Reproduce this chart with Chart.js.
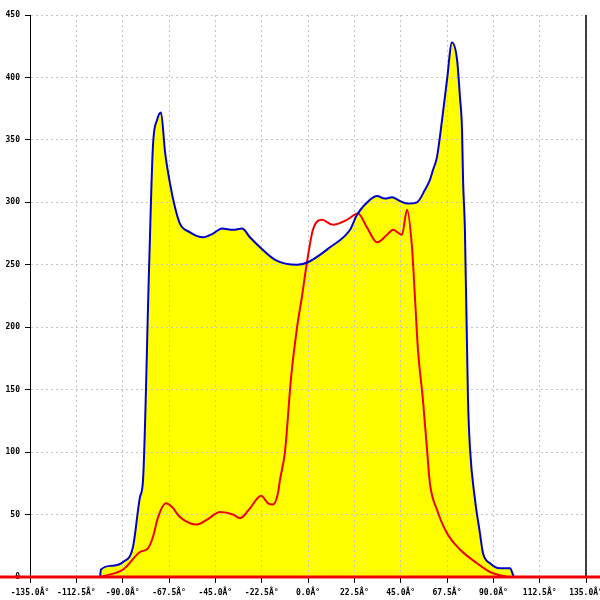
<!DOCTYPE html>
<html>
<head>
<meta charset="utf-8">
<script src="https://cdn.jsdelivr.net/npm/chart.js@4"></script>
<style>
    body { margin: 0; background: #fff; }
    canvas { display: block; background: #fff; }
</style>
</head>
<body>
<canvas id="histogram" width="600" height="600"></canvas>
<script>
// angle (deg) / count pairs
const blueAngles = [-101.0, -100.5, -95.2, -89.8, -85.0, -81.6, -80.1, -77.2, -75.3, -73.3, -71.4, -69.4, -67.0, -64.6, -62.2,
    -57.3, -51.0, -46.1, -41.8, -36.4, -32.0, -28.2, -23.3, -16.0, -5.3, 0.0, 10.7, 20.4, 23.8, 30.1, 33.5, 37.4, 40.8,
    44.7, 48.6, 52.9, 56.8, 59.2, 60.7, 62.6, 65.1, 67.5, 69.9, 72.4, 73.8, 74.8, 75.3, 76.2, 77.7, 78.7, 81.1, 83.5,
    85.0, 88.4, 93.2, 98.1, 99.5, 100.0];
const blueCounts = [0, 6, 9, 12, 24, 64, 78, 246, 345, 366, 372, 340, 315, 296, 283,
    276, 272, 275, 279, 278, 279, 272, 264, 254, 250, 252, 264, 278, 290, 302, 305, 303, 304,
    301, 299, 300, 310, 318, 326, 336, 366, 398, 428, 414, 384, 358, 318, 278, 142, 102, 62, 35,
    19, 11, 7, 7, 2, 0];

const redAngles = [-101.0, -89.8, -81.6, -77.7, -75.3, -72.8, -69.0, -66.0, -62.2, -57.3, -53.9, -49.0, -42.7, -36.4,
    -33.0, -28.2, -22.8, -19.4, -17.0, -14.6, -13.6, -11.2, -8.2, -5.3, -2.9, -0.5, 2.4, 6.8, 12.1, 18.9, 24.3, 28.6,
    33.5, 38.4, 41.3, 45.6, 48.1, 50.5, 52.0, 53.4, 55.8, 57.8, 59.2, 62.6, 67.5, 73.8, 82.1, 88.4, 96.6];
const redCounts = [0, 6, 20, 23, 32, 48, 59, 56, 48, 43, 42, 46, 52, 50,
    47, 55, 65, 59, 58, 67, 78, 100, 160, 200, 225, 252, 278, 286, 282, 286, 291, 280,
    268, 274, 278, 274, 294, 264, 222, 182, 142, 102, 75, 54, 35, 22, 11, 4, 0];

const xMin = -135, xMax = 135, xStep = 22.5;
const yMin = 0, yMax = 450, yStep = 50;

function toPoints(xs, ys) {
    return xs.map((x, i) => ({x: x, y: ys[i]}));
}

const tickFont = {family: 'DejaVu Sans Mono', size: 8, weight: 'bold'};

// red base line over the whole width + black right edge
const framePlugin = {
    id: 'frame',
    afterDraw(chart) {
        const ctx = chart.ctx;
        const area = chart.chartArea;
        const y0 = chart.scales.y.getPixelForValue(0);
        ctx.save();
        ctx.strokeStyle = '#000';
        ctx.lineWidth = 1.5;
        ctx.beginPath();
        ctx.moveTo(area.right, area.top);
        ctx.lineTo(area.right, y0);
        ctx.stroke();
        ctx.strokeStyle = '#ee0000';
        ctx.lineWidth = 3;
        ctx.beginPath();
        ctx.moveTo(0, y0);
        ctx.lineTo(chart.width, y0);
        ctx.stroke();
        ctx.restore();
    }
};

new Chart(document.getElementById('histogram'), {
    type: 'line',
    data: {
        datasets: [
            {
                data: toPoints(blueAngles, blueCounts),
                borderColor: '#0000cc',
                backgroundColor: '#ffff00',
                borderWidth: 2,
                pointRadius: 0,
                fill: 'origin',
                cubicInterpolationMode: 'monotone'
            },
            {
                data: toPoints(redAngles, redCounts),
                borderColor: '#ee0000',
                borderWidth: 2,
                pointRadius: 0,
                fill: false,
                cubicInterpolationMode: 'monotone'
            }
        ]
    },
    options: {
        responsive: false,
        animation: false,
        layout: {padding: {left: 0, top: 15, right: 14, bottom: 0}},
        plugins: {
            legend: {display: false},
            tooltip: {enabled: false},
            filler: {drawTime: 'beforeDraw'}
        },
        scales: {
            x: {
                type: 'linear',
                min: xMin,
                max: xMax,
                afterFit: function(scale) {
                    scale.height = 23;
                    scale.paddingLeft = 0;
                    scale.paddingRight = 0;
                },
                ticks: {
                    stepSize: xStep,
                    color: '#000',
                    font: tickFont,
                    padding: 5,
                    maxRotation: 0,
                    autoSkip: false,
                    callback: function(value) {
                        return value.toFixed(1) + 'Â°';
                    }
                },
                grid: {
                    color: '#c4c4c4',
                    tickColor: '#000',
                    tickLength: 6
                },
                border: {display: false, dash: [2, 3]}
            },
            y: {
                min: yMin,
                max: yMax,
                afterFit: function(scale) {
                    scale.width = 30;
                },
                ticks: {
                    stepSize: yStep,
                    color: '#000',
                    font: tickFont,
                    padding: 5
                },
                grid: {
                    color: '#c4c4c4',
                    tickColor: '#000',
                    tickLength: 5
                },
                border: {display: true, color: '#000', width: 1, dash: [2, 3]}
            }
        }
    },
    plugins: [framePlugin]
});
</script>
</body>
</html>
